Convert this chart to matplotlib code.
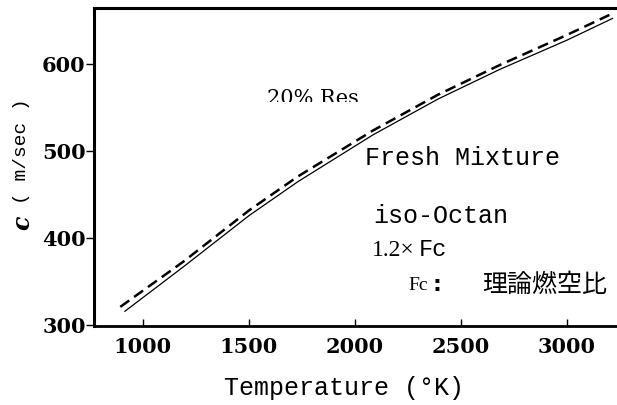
import matplotlib
matplotlib.use("Agg")
import matplotlib.pyplot as plt
from matplotlib.patches import Rectangle

# ─── data ────────────────────────────────────────────────────────────────────
temp_fresh = [915, 1190, 1500, 1730, 2085, 2390, 2680, 3000, 3215]
c_fresh    = [316, 367, 426, 465, 519, 560, 594, 628, 653]

temp_res   = [893, 1190, 1500, 1730, 2085, 2390, 2680, 3000, 3200]
c_res      = [321, 373, 432, 471, 524, 565, 599, 634, 657]

x_ticks = [1000, 1500, 2000, 2500, 3000]
y_ticks = [300, 400, 500, 600]

W, H = 617, 405
fig = plt.figure(figsize=(W / 100, H / 100), dpi=100)
ax = fig.add_axes([94 / W, 1 - 326 / H, 1 - 94 / W, (326 - 8) / H])

ax.plot(temp_fresh, c_fresh, color="black", lw=0.9)
ax.plot(temp_res, c_res, color="black", lw=1.8, dashes=(4.4, 2.4))

ax.set_xlim(769, 3236)
ax.set_ylim(299, 665)
ax.set_xticks(x_ticks)
ax.set_yticks(y_ticks)

ax.spines["right"].set_visible(False)
ax.spines["left"].set_linewidth(2.2)
ax.spines["top"].set_linewidth(2.2)
ax.spines["bottom"].set_linewidth(2.0)

ax.tick_params(axis="x", direction="in", length=5, width=1, pad=8)
ax.tick_params(axis="y", direction="out", length=6, width=1, pad=0)
for lab in ax.get_xticklabels() + ax.get_yticklabels():
    lab.set_fontfamily("DejaVu Serif")
    lab.set_fontweight("bold")
    lab.set_fontsize(15)

mono = "Liberation Mono"

# axis titles
fig.text(344 / W, 1 - 388 / H, "Temperature (°K)", family=mono,
         fontsize=18, ha="center", va="center")
fig.text(22 / W, 1 - 223 / H, "c", family="DejaVu Serif", style="italic",
         fontweight="bold", fontsize=17, rotation=90, ha="center", va="center")
fig.text(22 / W, 1 - 151 / H, "( m/sec )", family=mono, fontsize=14,
         rotation=90, ha="center", va="center")

# labels inside the plot (pixel positions -> figure fraction)
def px(x, y):
    return x / W, 1 - y / H

t = fig.text(*px(267, 89), "20% Res", family="DejaVu Serif", fontsize=15,
             ha="left", va="top")
# the scan cuts this label off part way down
clip = Rectangle(px(0, 102), 1, 1, transform=fig.transFigure)
t.set_clip_path(clip)

fig.text(*px(365, 158), "Fresh Mixture", family=mono, fontsize=18,
         ha="left", va="center")
fig.text(*px(373, 216), "iso-Octan", family=mono, fontsize=18,
         ha="left", va="center")
fig.text(*px(372, 250), "1.2×", family="Liberation Serif", fontsize=17,
         ha="left", va="center")
fig.text(*px(419, 250), "Fc", family=mono, fontsize=17,
         ha="left", va="center")
fig.text(*px(408, 285), "Fc", family="Liberation Serif", fontsize=14,
         ha="left", va="center")
fig.text(*px(437, 285), ":", family="DejaVu Sans", fontweight="bold",
         fontsize=16, ha="center", va="center")
fig.text(*px(607, 285), "理論燃空比", family="Noto Sans CJK JP", fontsize=18,
         ha="right", va="center")

fig.savefig("out.png", dpi=100)
